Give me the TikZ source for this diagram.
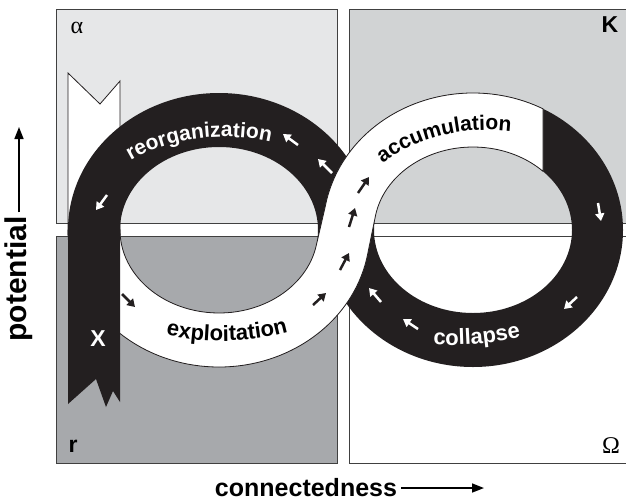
\documentclass[tikz,border=0pt]{standalone}
\usepackage{fontspec}
\setmainfont{Liberation Serif}
\setsansfont{Liberation Sans}
\usetikzlibrary{arrows.meta,decorations.text}
\definecolor{ink}{HTML}{231F20}
\definecolor{alphagray}{HTML}{E6E7E8}
\definecolor{kgray}{HTML}{D1D3D4}
\definecolor{rgray}{HTML}{A7A9AC}
\tikzstyle{panel} = [draw=black!75, line width=0.9pt]
\tikzstyle{band} = [fill=white, draw=ink, line width=0.8pt]
\tikzstyle{flow} = [line width=2.5pt, -{Triangle[length=7.5pt,width=9pt]}]
\tikzstyle{axis} = [line width=1.6pt, -{Triangle[length=12pt,width=9pt]}]
\tikzstyle{corner} = [inner sep=0pt, font=\fontsize{23}{27}\selectfont\sffamily\bfseries]
\tikzstyle{greek} = [inner sep=0pt, font=\fontsize{24}{28}\selectfont]
\tikzstyle{axislabel} = [inner sep=4pt, font=\fontsize{25}{30}\selectfont\sffamily\bfseries]

\begin{document}
\begin{tikzpicture}[x=1pt, y=-1pt]
    \useasboundingbox (0,0) rectangle (626,501);
    % four phase panels
    \draw[panel, fill=alphagray] (56,9) rectangle (337,223);
    \draw[panel, fill=kgray] (349,9) rectangle (640,223);
    \draw[panel, fill=rgray] (56,236) rectangle (337,463);
    \draw[panel, fill=white] (349,236) rectangle (640,463);
    % loose end coming in at alpha
    \draw[band] (68,235) -- (68,73) -- (100,104) -- (120,81) -- (120,235);
    % black loops
    \fill[ink, even odd rule] (219,230) ellipse [x radius=151, y radius=137]
        (219,230) ellipse [x radius=99, y radius=83];
    \fill[ink, even odd rule] (473,230) ellipse [x radius=150, y radius=137]
        (473,230) ellipse [x radius=99, y radius=83];
    % white band, front loop
    \draw[band] (68,230) arc [start angle=180, end angle=10, x radius=151, y radius=137]
        -- (375.5,215.6) arc [start angle=190, end angle=315, x radius=99, y radius=83]
        -- (543,108.8) arc [start angle=297.8, end angle=190, x radius=150, y radius=137]
        -- (316.5,244.4) arc [start angle=10, end angle=180, x radius=99, y radius=83] -- cycle;
    % release strip
    \fill[ink] (68,229) -- (120,229) -- (120,402) -- (113,391) -- (106,407) -- (96,379) -- (68,404) -- cycle;
    % phase names
    \path[decorate, decoration={text along path, text align=center,
        text={|\fontsize{21}{25}\selectfont\sffamily\bfseries\color{white}|reorganization}}]
        ([shift={(225,230)}]196:141 and 93) arc [start angle=196, end angle=316, x radius=141, y radius=93];
    \path[decorate, decoration={text along path, text align=center,
        text={|\fontsize{21}{25}\selectfont\sffamily\bfseries|accumulation}}]
        ([shift={(488,230)}]190:141 and 100) arc [start angle=190, end angle=305, x radius=141, y radius=100];
    \path[decorate, decoration={text along path, text align=center,
        text={|\fontsize{22}{26}\selectfont\sffamily\bfseries|exploitation}}]
        ([shift={(222,230)}]128:170 and 111) arc [start angle=128, end angle=48, x radius=170, y radius=111];
    \path[decorate, decoration={text along path, text align=center,
        text={|\fontsize{22}{26}\selectfont\sffamily\bfseries\color{white}|collapse}}]
        ([shift={(450,230)}]110:200 and 115) arc [start angle=110, end angle=53, x radius=200, y radius=115];
    % flow arrows
    \draw[flow, ink] (122,294) -- (135,307);
    \draw[flow, ink] (313,305) -- (326,293);
    \draw[flow, ink] (340,270) -- (349,253);
    \draw[flow, ink] (349,227) -- (355,208);
    \draw[flow, ink] (358,193) -- (369,177);
    \draw[flow, white] (107,195) -- (96,210);
    \draw[flow, white] (298,145) -- (283,134);
    \draw[flow, white] (332,173) -- (318,159);
    \draw[flow, white] (598,203) -- (601,221);
    \draw[flow, white] (577,297) -- (564,309);
    \draw[flow, white] (418,329) -- (403,319);
    \draw[flow, white] (381,302) -- (369,288);
    % corner labels
    \node[greek] (alpha) at (77,28) {α};
    \node[corner] (K) at (610,25) {K};
    \node[corner] (r) at (73,446) {r};
    \node[greek] (omega) at (611,446) {Ω};
    \node[corner, white] (X) at (98,339) {X};
    % axes
    \node[axislabel, rotate=90, font=\fontsize{30}{34}\selectfont\sffamily\bfseries] (potential) at (19,279) {potential};
    \coordinate (potentialtip) at (22,127);
    \draw[axis] (potential.east) -- (potential.east |- potentialtip);
    \node[axislabel] (connectedness) at (306,488) {connectedness};
    \coordinate (connectedtip) at (484,488);
    \draw[axis] (connectedness.east) -- (connectedness.east -| connectedtip);
\end{tikzpicture}
\end{document}
